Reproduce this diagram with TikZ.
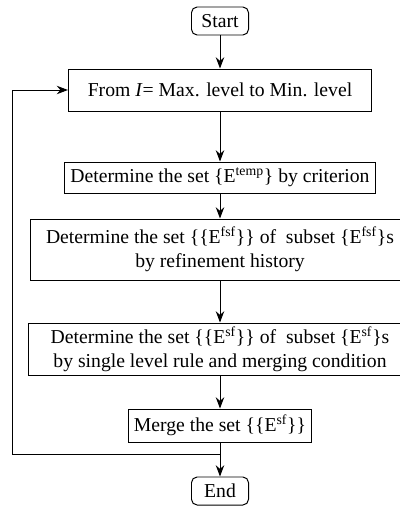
\documentclass[tikz,border=0pt]{standalone}
\usepackage{fontspec}
\setmainfont{Liberation Serif}
\usetikzlibrary{arrows.meta}

\begin{document}
\begin{tikzpicture}[x=0.025cm, y=-0.025cm, line width=0.7pt,
    stepbox/.style={draw, align=center, inner sep=2pt, font=\fontsize{14}{17}\selectfont},
    endbox/.style={stepbox, rounded corners=4pt, minimum width=1.425cm, minimum height=0.7cm},
    flow/.style={-{Stealth[length=8pt,width=6pt]}}]
        \useasboundingbox (0,0) rectangle (400,506);

        % Terminals
        \node[endbox] (start) at (220,21) {Start};
        \node[endbox] (end) at (220,491) {End};

        % Steps
        \node[stepbox, minimum width=7.575cm, minimum height=1.05cm] (from) at (220,90)
            {From \textit{I}= Max. level to Min. level};
        \node[stepbox, minimum width=7.75cm, minimum height=0.775cm] (crit) at (220,177.5)
            {Determine the set \{E\textsuperscript{temp}\} by criterion};
        \node[stepbox, minimum width=9.45cm, minimum height=1.525cm] (refine) at (220,249.5)
            {Determine the set \{\{E\textsuperscript{fsf}\}\} of\ \ subset \{E\textsuperscript{fsf}\}s\\by refinement history};
        \node[stepbox, minimum width=9.55cm, minimum height=1.3cm] (single) at (220,349)
            {Determine the set \{\{E\textsuperscript{sf}\}\} of\ \ subset \{E\textsuperscript{sf}\}s\\by single level rule and merging condition};
        \node[stepbox, minimum width=4.55cm, minimum height=0.825cm] (merge) at (220,425.5)
            {Merge the set \{\{E\textsuperscript{sf}\}\}};

        % Connectors
        \draw[flow] (start) -- (from);
        \draw[flow] (from) -- (crit);
        \draw[flow] (crit) -- (refine);
        \draw[flow] (refine) -- (single);
        \draw[flow] (single) -- (merge);
        \draw[flow] (merge) -- (end);

        % Loop back
        \coordinate (turn) at (220,454);
        \coordinate (corner) at (12,454);
        \draw[flow] (turn) -- (corner) |- (from.west);
\end{tikzpicture}
\end{document}
